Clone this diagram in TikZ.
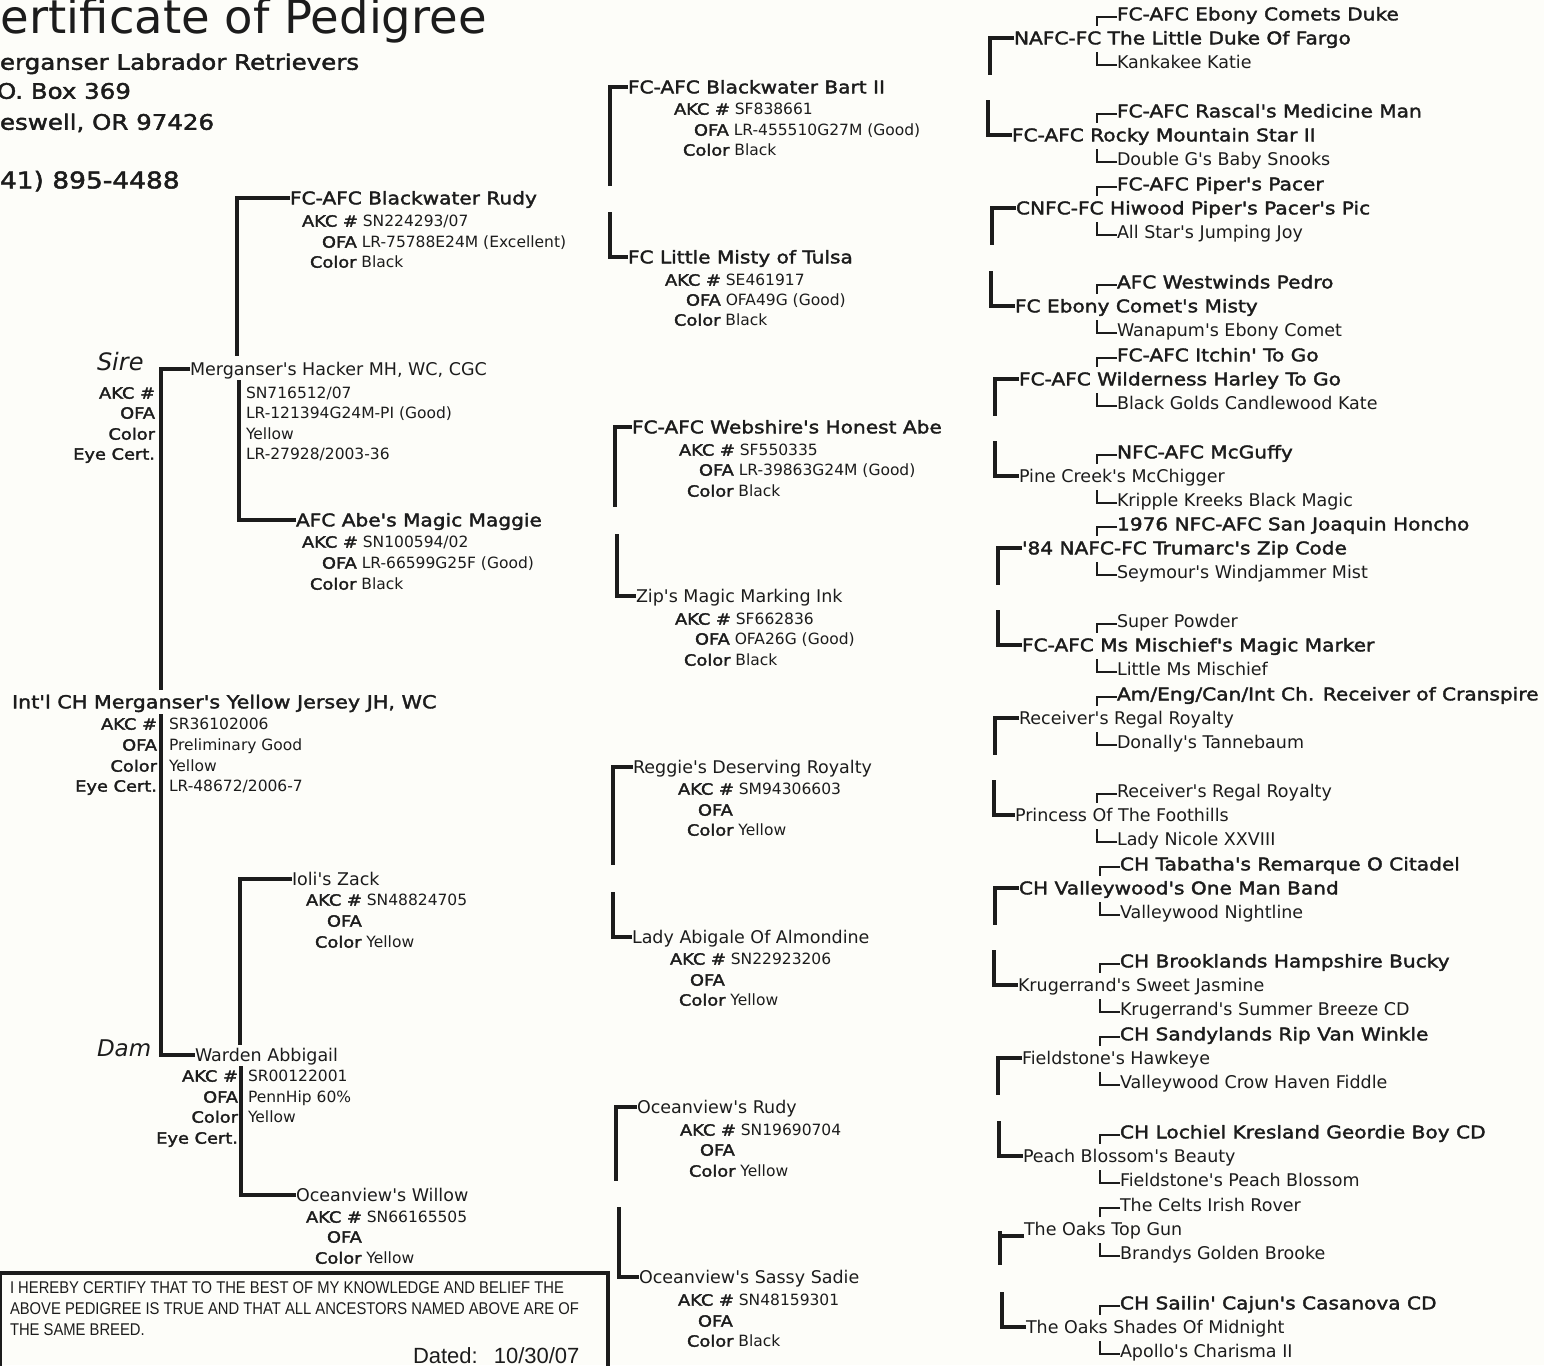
\documentclass[tikz,border=0pt]{standalone}
\usepackage{fontspec}
\setmainfont{DejaVu Sans}
\newfontfamily\rfam{DejaVu Sans}
\newfontfamily\tfam[FakeStretch=1.15,FakeBold=2]{DejaVu Sans}
\newfontfamily\cfam[FakeStretch=0.87]{Liberation Sans}
\newfontfamily\dfam{Liberation Sans}
\definecolor{ink}{RGB}{28,28,28}
\definecolor{paper}{RGB}{253,253,249}
\newcommand\fs[1]{\fontsize{#1}{#1}\selectfont}
\newcommand\dl[2]{{\tfam #1} #2}
\tikzset{
 base/.style={inner sep=0pt, outer sep=0pt, text depth=0pt, text=ink, anchor=west},
 nm/.style={base, font=\rfam\fs{17.5}, text height=12.7pt},
 tn/.style={base, font=\tfam\fs{17.5}, text height=12.7pt},
 dt/.style={base, font=\rfam\fs{15.5}, text height=11.3pt},
 lb/.style={base, font=\tfam\fs{15.5}, text height=11.3pt, anchor=east},
 hd/.style={base, font=\tfam\fs{21.3}, text height=15.5pt},
 sd/.style={base, font=\rfam\itshape\fs{24}, text height=17.5pt},
 br/.style={draw=ink, line width=3.3pt},
 sbr/.style={draw=ink, line width=2.4pt},
}
\newcommand\sx{1117}
% group: #1 id, #2 x big, #3 y big, #4 style big, #5 big, #6 style top, #7 top, #8 style bottom, #9 bottom
\newcommand\grp[9]{%
 \node[#4] (#1b) at (#2,#3) {#5};
 \node[#6] (#1t) at (\sx,{#3-24}) {#7};
 \node[#8] (#1d) at (\sx,{#3+24}) {#9};
 \draw[sbr] ([yshift=-3pt]#1t.west) -- ++(-20,0) -- ++(0,9);
 \draw[sbr] ([yshift=-3pt]#1d.west) -- ++(-20,0) -- ++(0,-13);
}
\begin{document}
\begin{tikzpicture}[x=1pt,y=-1pt]
\fill[paper] (0,0) rectangle (1544,1365);
\useasboundingbox (0,0) rectangle (1544,1365);

% header
\node[base, font=\rfam\fs{46.5}, text height=33.9pt] (title) at (1,17) {ertificate of Pedigree};
\node[hd] (kennel) at (0,62) {erganser Labrador Retrievers};
\node[hd] (pobox) at (-3,91) {O. Box 369};
\node[hd] (city) at (0,122) {eswell, OR 97426};
\node[hd, font=\tfam\fs{23}, text height=16.8pt] (phone) at (0,180) {41) 895-4488};

% sire side
\node[tn] (rudy) at (290,198) {FC-AFC Blackwater Rudy};
\node[dt] (rudya) at (302,221) {\dl{AKC \#}{SN224293/07}};
\node[dt] (rudyo) at (322,242) {\dl{OFA}{LR-75788E24M (Excellent)}};
\node[dt] (rudyc) at (310,262) {\dl{Color}{Black}};

\node[sd] (sirel) at (97,362) {Sire};
\node[nm] (hacker) at (190,369) {Merganser's Hacker MH, WC, CGC};
\node[lb] (sa) at (155,393) {AKC \#};
\node[lb] (so) at (155,413) {OFA};
\node[lb] (sc) at (155,434) {Color};
\node[lb] (se) at (155,454) {Eye Cert.};
\node[dt] (sav) at (246,393) {SN716512/07};
\node[dt] (sov) at (246,413) {LR-121394G24M-PI (Good)};
\node[dt] (scv) at (246,434) {Yellow};
\node[dt] (sev) at (246,454) {LR-27928/2003-36};

\node[tn] (maggie) at (296,520) {AFC Abe's Magic Maggie};
\node[dt] (maggiea) at (302,542) {\dl{AKC \#}{SN100594/02}};
\node[dt] (maggieo) at (322,563) {\dl{OFA}{LR-66599G25F (Good)}};
\node[dt] (maggiec) at (310,584) {\dl{Color}{Black}};

% subject
\node[tn, font=\tfam\fs{18}] (subj) at (12,702) {Int'l CH Merganser's Yellow Jersey JH, WC};
\node[lb] (ja) at (157,724) {AKC \#};
\node[lb] (jo) at (157,745) {OFA};
\node[lb] (jc) at (157,766) {Color};
\node[lb] (je) at (157,786) {Eye Cert.};
\node[dt] (jav) at (169,724) {SR36102006};
\node[dt] (jov) at (169,745) {Preliminary Good};
\node[dt] (jcv) at (169,766) {Yellow};
\node[dt] (jev) at (169,786) {LR-48672/2006-7};

% dam side
\node[nm] (ioli) at (292,879) {Ioli's Zack};
\node[dt] (iolia) at (306,900) {\dl{AKC \#}{SN48824705}};
\node[dt] (iolio) at (327,921) {\dl{OFA}{}};
\node[dt] (iolic) at (315,942) {\dl{Color}{Yellow}};

\node[sd, font=\rfam\itshape\fs{23}, text height=16.8pt] (daml) at (97,1048) {Dam};
\node[nm] (warden) at (195,1055) {Warden Abbigail};
\node[lb] (da) at (238,1076) {AKC \#};
\node[lb] (do) at (238,1097) {OFA};
\node[lb] (dc) at (238,1117) {Color};
\node[lb] (de) at (238,1138) {Eye Cert.};
\node[dt] (dav) at (248,1076) {SR00122001};
\node[dt] (dov) at (248,1097) {PennHip 60\%};
\node[dt] (dcv) at (248,1117) {Yellow};

\node[nm] (willow) at (296,1195) {Oceanview's Willow};
\node[dt] (willowa) at (306,1217) {\dl{AKC \#}{SN66165505}};
\node[dt] (willowo) at (327,1237) {\dl{OFA}{}};
\node[dt] (willowc) at (315,1258) {\dl{Color}{Yellow}};

% left connectors
\draw[br] (rudy.west) -- ++(-53,0) -- ++(0,158);
\draw[br] (maggie.west) -- ++(-57,0) -- ++(0,-140);
\draw[br] (hacker.west) -- ++(-29,0) -- ++(0,321);
\draw[br] (warden.west) -- ++(-34,0) -- ++(0,-341);
\draw[br] (ioli.west) -- ++(-52,0) -- ++(0,166);
\draw[br] (willow.west) -- ++(-55,0) -- ++(0,-129);

% middle column
\node[tn] (bart) at (628,87) {FC-AFC Blackwater Bart II};
\node[dt] (barta) at (674,109) {\dl{AKC \#}{SF838661}};
\node[dt] (barto) at (694,130) {\dl{OFA}{LR-455510G27M (Good)}};
\node[dt] (bartc) at (683,150) {\dl{Color}{Black}};

\node[tn] (misty) at (628,257) {FC Little Misty of Tulsa};
\node[dt] (mistya) at (665,280) {\dl{AKC \#}{SE461917}};
\node[dt] (mistyo) at (686,300) {\dl{OFA}{OFA49G (Good)}};
\node[dt] (mistyc) at (674,320) {\dl{Color}{Black}};

\node[tn] (abe) at (632,427) {FC-AFC Webshire's Honest Abe};
\node[dt] (abea) at (679,450) {\dl{AKC \#}{SF550335}};
\node[dt] (abeo) at (699,470) {\dl{OFA}{LR-39863G24M (Good)}};
\node[dt] (abec) at (687,491) {\dl{Color}{Black}};

\node[nm] (zip) at (636,596) {Zip's Magic Marking Ink};
\node[dt] (zipa) at (675,619) {\dl{AKC \#}{SF662836}};
\node[dt] (zipo) at (695,639) {\dl{OFA}{OFA26G (Good)}};
\node[dt] (zipc) at (684,660) {\dl{Color}{Black}};

\node[nm] (reggie) at (633,767) {Reggie's Deserving Royalty};
\node[dt] (reggiea) at (678,789) {\dl{AKC \#}{SM94306603}};
\node[dt] (reggieo) at (698,810) {\dl{OFA}{}};
\node[dt] (reggiec) at (687,830) {\dl{Color}{Yellow}};

\node[nm] (lady) at (632,937) {Lady Abigale Of Almondine};
\node[dt] (ladya) at (670,959) {\dl{AKC \#}{SN22923206}};
\node[dt] (ladyo) at (690,980) {\dl{OFA}{}};
\node[dt] (ladyc) at (679,1000) {\dl{Color}{Yellow}};

\node[nm] (orudy) at (637,1107) {Oceanview's Rudy};
\node[dt] (orudya) at (680,1130) {\dl{AKC \#}{SN19690704}};
\node[dt] (orudyo) at (700,1150) {\dl{OFA}{}};
\node[dt] (orudyc) at (689,1171) {\dl{Color}{Yellow}};

\node[nm] (sadie) at (639,1277) {Oceanview's Sassy Sadie};
\node[dt] (sadiea) at (678,1300) {\dl{AKC \#}{SN48159301}};
\node[dt] (sadieo) at (698,1321) {\dl{OFA}{}};
\node[dt] (sadiec) at (687,1341) {\dl{Color}{Black}};

\draw[br] (bart.west) -- ++(-18,0) -- ++(0,99);
\draw[br] (misty.west) -- ++(-18,0) -- ++(0,-45);
\draw[br] (abe.west) -- ++(-17,0) -- ++(0,80);
\draw[br] (zip.west) -- ++(-19,0) -- ++(0,-62);
\draw[br] (reggie.west) -- ++(-20,0) -- ++(0,98);
\draw[br] (lady.west) -- ++(-19,0) -- ++(0,-45);
\draw[br] (orudy.west) -- ++(-21,0) -- ++(0,74);
\draw[br] (sadie.west) -- ++(-20,0) -- ++(0,-70);

% right column
\grp{g1}{1014}{38}{tn}{NAFC-FC The Little Duke Of Fargo}{tn}{FC-AFC Ebony Comets Duke}{nm}{Kankakee Katie}
\grp{g2}{1012}{135}{tn}{FC-AFC Rocky Mountain Star II}{tn}{FC-AFC Rascal's Medicine Man}{nm}{Double G's Baby Snooks}
\grp{g3}{1016}{208}{tn}{CNFC-FC Hiwood Piper's Pacer's Pic}{tn}{FC-AFC Piper's Pacer}{nm}{All Star's Jumping Joy}
\grp{g4}{1015}{306}{tn}{FC Ebony Comet's Misty}{tn}{AFC Westwinds Pedro}{nm}{Wanapum's Ebony Comet}
\grp{g5}{1019}{379}{tn}{FC-AFC Wilderness Harley To Go}{tn}{FC-AFC Itchin' To Go}{nm}{Black Golds Candlewood Kate}
\grp{g6}{1019}{476}{nm}{Pine Creek's McChigger}{tn}{NFC-AFC McGuffy}{nm}{Kripple Kreeks Black Magic}
\grp{g7}{1022}{548}{tn}{'84 NAFC-FC Trumarc's Zip Code}{tn}{1976 NFC-AFC San Joaquin Honcho}{nm}{Seymour's Windjammer Mist}
\grp{g8}{1022}{645}{tn}{FC-AFC Ms Mischief's Magic Marker}{nm}{Super Powder}{nm}{Little Ms Mischief}
\grp{g9}{1019}{718}{nm}{Receiver's Regal Royalty}{tn}{Am/Eng/Can/Int Ch. Receiver of Cranspire}{nm}{Donally's Tannebaum}
\grp{g10}{1015}{815}{nm}{Princess Of The Foothills}{nm}{Receiver's Regal Royalty}{nm}{Lady Nicole XXVIII}
\renewcommand\sx{1120}
\grp{g11}{1019}{888}{tn}{CH Valleywood's One Man Band}{tn}{CH Tabatha's Remarque O Citadel}{nm}{Valleywood Nightline}
\grp{g12}{1018}{985}{nm}{Krugerrand's Sweet Jasmine}{tn}{CH Brooklands Hampshire Bucky}{nm}{Krugerrand's Summer Breeze CD}
\grp{g13}{1022}{1058}{nm}{Fieldstone's Hawkeye}{tn}{CH Sandylands Rip Van Winkle}{nm}{Valleywood Crow Haven Fiddle}
\grp{g14}{1023}{1156}{nm}{Peach Blossom's Beauty}{tn}{CH Lochiel Kresland Geordie Boy CD}{nm}{Fieldstone's Peach Blossom}
\grp{g15}{1024}{1229}{nm}{The Oaks Top Gun}{nm}{The Celts Irish Rover}{nm}{Brandys Golden Brooke}
\grp{g16}{1026}{1327}{nm}{The Oaks Shades Of Midnight}{tn}{CH Sailin' Cajun's Casanova CD}{nm}{Apollo's Charisma II}

\foreach \g in {g1,g3,g5,g7,g9,g11,g13}
  \draw[br] (\g b.west) -- ++(-24,0) -- ++(0,37);
\foreach \g in {g2,g4,g6,g8,g12,g14,g16}
  \draw[br] (\g b.west) -- ++(-24,0) -- ++(0,-35);
\draw[br] (g10b.west) -- ++(-21,0) -- ++(0,-35);
\draw[br] ([yshift=-7pt]g15b.west) -- ++(-24,0);
\draw[br] ([xshift=-24pt,yshift=-2pt]g15b.west) -- ++(0,34);

% certification box
\draw[ink, line width=3.3pt] (0.5,1400) -- (0.5,1273) -- (608,1273) -- (608,1400);
\node[base, font=\cfam\fs{17}, text height=12.3pt] (cert1) at (10,1287) {I HEREBY CERTIFY THAT TO THE BEST OF MY KNOWLEDGE AND BELIEF THE};
\node[base, font=\cfam\fs{17}, text height=12.3pt] (cert2) at (10,1308) {ABOVE PEDIGREE IS TRUE AND THAT ALL ANCESTORS NAMED ABOVE ARE OF};
\node[base, font=\cfam\fs{17}, text height=12.3pt] (cert3) at (10,1329) {THE SAME BREED.};
\node[base, font=\dfam\fs{22}, text height=15.8pt] (dated) at (413,1355.5) {Dated:\hspace{16pt}10/30/07};
\end{tikzpicture}
\end{document}
